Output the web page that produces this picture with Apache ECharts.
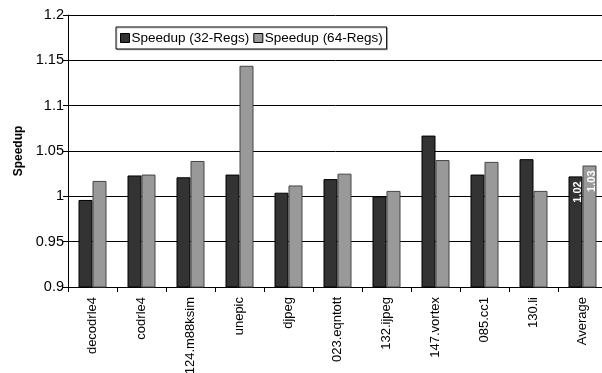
<!DOCTYPE html>
<html>
<head>
<meta charset="utf-8">
<script src="https://cdn.jsdelivr.net/npm/echarts@6/dist/echarts.min.js"></script>
<style>
  html, body { margin: 0; padding: 0; background: #fff; }
  #chart { width: 602px; height: 373px; }
</style>
</head>
<body>
<div id="chart"></div>
<script>
// Benchmarks on the horizontal axis
const benchmarks = ['decodrle4', 'codrle4', '124.m88ksim', 'unepic', 'djpeg', '023.eqntott',
  '132.ijpeg', '147.vortex', '085.cc1', '130.li', 'Average'];

// Speedup per benchmark for each register-file size
const speedup32 = [0.996, 1.023, 1.021, 1.024, 1.004, 1.019, 1.000, 1.067, 1.024, 1.041, 1.022];
const speedup64 = [1.017, 1.024, 1.039, 1.144, 1.012, 1.025, 1.006, 1.040, 1.038, 1.006, 1.034];

const seriesNames = ['Speedup (32-Regs)', 'Speedup (64-Regs)'];
const yTicks = { min: 0.9, max: 1.2, step: 0.05 };

const font = 'Liberation Sans, Arial, sans-serif';
const lastIndex = benchmarks.length - 1;

// Only the Average bars carry a value label
function averageLabels(values) {
  return values.map((v, i) => i === lastIndex
    ? { value: v, label: { show: true } }
    : v);
}

const barLabel = {
  show: false,
  position: 'insideTop',
  rotate: 90,
  align: 'right',
  verticalAlign: 'middle',
  offset: [0, 2],
  color: '#fff',
  fontFamily: font,
  fontSize: 11,
  fontWeight: 'bold',
  formatter: p => p.value.toFixed(2)
};

const chart = echarts.init(document.getElementById('chart'), null, { renderer: 'canvas' });
chart.setOption({
  animation: false,
  backgroundColor: '#fff',
  textStyle: { fontFamily: font },
  grid: {
    left: 68, top: 15, width: 539, height: 272,
    containLabel: false,
    outerBoundsMode: 'none'
  },
  legend: {
    left: 116,
    top: 27,
    itemWidth: 9,
    itemHeight: 9,
    itemGap: 4,
    padding: [4, 4, 4, 4],
    borderColor: '#000',
    borderWidth: 1,
    backgroundColor: '#fff',
    shadowColor: 'rgba(0,0,0,0.2)',
    shadowOffsetX: 1,
    shadowOffsetY: 1,
    icon: 'rect',
    itemStyle: { borderColor: '#000', borderWidth: 1 },
    textStyle: { fontFamily: font, fontSize: 13.5, color: '#000', padding: [0, 0, 0, -3] },
    data: seriesNames
  },
  xAxis: {
    type: 'category',
    data: benchmarks,
    axisLine: { lineStyle: { color: '#000', width: 1 } },
    axisTick: { show: true, alignWithLabel: false, length: 5, lineStyle: { color: '#000' } },
    axisLabel: {
      rotate: 90,
      interval: 0,
      margin: 10,
      color: '#000',
      fontFamily: font,
      fontSize: 13
    }
  },
  yAxis: {
    type: 'value',
    min: yTicks.min,
    max: yTicks.max,
    interval: yTicks.step,
    name: 'Speedup',
    nameLocation: 'middle',
    nameGap: 43,
    nameRotate: 90,
    nameTextStyle: { fontFamily: font, fontSize: 12, fontWeight: 'bold', color: '#000' },
    axisLine: { show: true, lineStyle: { color: '#000', width: 1 } },
    axisTick: { show: true, length: 5, lineStyle: { color: '#000' } },
    axisLabel: {
      margin: 4,
      color: '#000',
      fontFamily: font,
      fontSize: 14.5,
      formatter: v => String(parseFloat(v.toFixed(2)))
    },
    splitLine: { show: true, lineStyle: { color: '#000', width: 1 } }
  },
  series: [
    {
      name: seriesNames[0],
      type: 'bar',
      data: averageLabels(speedup32),
      barWidth: 14,
      barGap: '0%',
      itemStyle: { color: '#333333', borderColor: '#000', borderWidth: 1 },
      label: barLabel
    },
    {
      name: seriesNames[1],
      type: 'bar',
      data: averageLabels(speedup64),
      barWidth: 14,
      barGap: '0%',
      itemStyle: { color: '#999999', borderColor: '#444', borderWidth: 1 },
      label: barLabel
    }
  ]
});
</script>
</body>
</html>
